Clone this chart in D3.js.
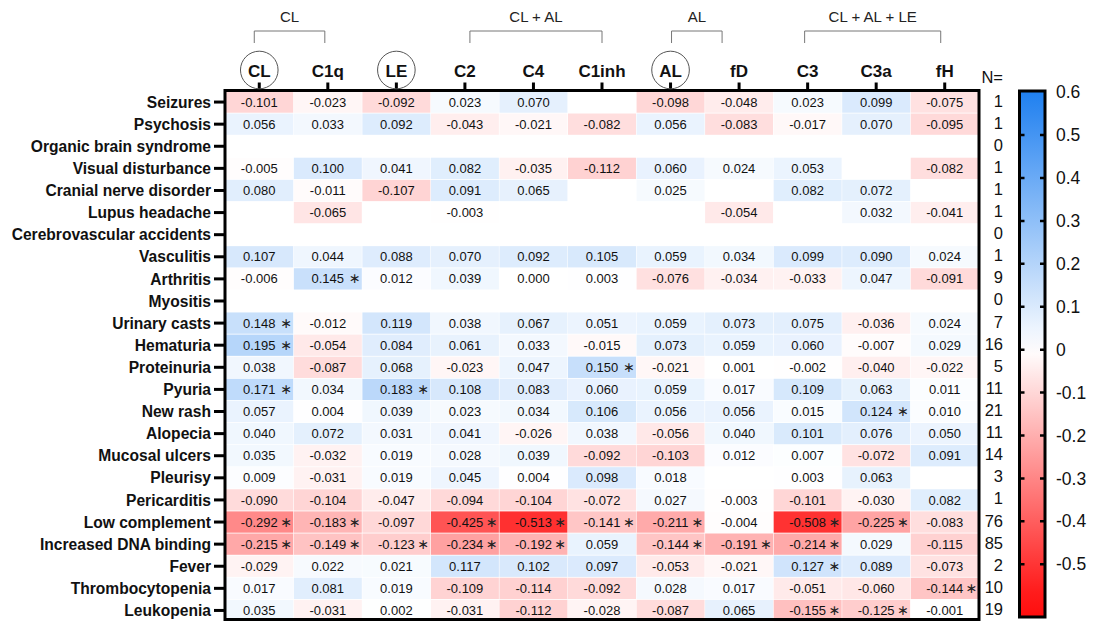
<!DOCTYPE html>
<html>
<head>
<meta charset="utf-8">
<script src="https://cdn.jsdelivr.net/npm/d3@7"></script>
<style>
  body { margin: 0; background: #fff; }
  svg { display: block; font-family: "Liberation Sans", Arial, Helvetica, sans-serif; }
</style>
</head>
<body>
<svg id="chart" width="1094" height="622"></svg>
<script>
// Complement components (columns) and clinical manifestations (rows)
const columns = ["CL", "C1q", "LE", "C2", "C4", "C1inh", "AL", "fD", "C3", "C3a", "fH"];
const circledColumns = ["CL", "LE", "AL"];

const symptoms = [
  "Seizures", "Psychosis", "Organic brain syndrome", "Visual disturbance",
  "Cranial nerve disorder", "Lupus headache", "Cerebrovascular accidents",
  "Vasculitis", "Arthritis", "Myositis", "Urinary casts", "Hematuria",
  "Proteinuria", "Pyuria", "New rash", "Alopecia", "Mucosal ulcers",
  "Pleurisy", "Pericarditis", "Low complement", "Increased DNA binding",
  "Fever", "Thrombocytopenia", "Leukopenia"
];

const patientCounts = [1, 1, 0, 1, 1, 1, 0, 1, 9, 0, 7, 16, 5, 11, 21, 11, 14, 3, 1, 76, 85, 2, 10, 19];

// Correlation coefficients, one row per symptom, in column order (null = not computed)
const correlations = [
  [-0.101, -0.023, -0.092,  0.023,  0.070,  null,  -0.098, -0.048,  0.023,  0.099, -0.075],
  [ 0.056,  0.033,  0.092, -0.043, -0.021, -0.082,  0.056, -0.083, -0.017,  0.070, -0.095],
  [ null,   null,   null,   null,   null,   null,   null,   null,   null,   null,   null ],
  [-0.005,  0.100,  0.041,  0.082, -0.035, -0.112,  0.060,  0.024,  0.053,  null,  -0.082],
  [ 0.080, -0.011, -0.107,  0.091,  0.065,  null,   0.025,  null,   0.082,  0.072,  null ],
  [ null,  -0.065,  null,  -0.003,  null,   null,   null,  -0.054,  null,   0.032, -0.041],
  [ null,   null,   null,   null,   null,   null,   null,   null,   null,   null,   null ],
  [ 0.107,  0.044,  0.088,  0.070,  0.092,  0.105,  0.059,  0.034,  0.099,  0.090,  0.024],
  [-0.006,  0.145,  0.012,  0.039,  0.000,  0.003, -0.076, -0.034, -0.033,  0.047, -0.091],
  [ null,   null,   null,   null,   null,   null,   null,   null,   null,   null,   null ],
  [ 0.148, -0.012,  0.119,  0.038,  0.067,  0.051,  0.059,  0.073,  0.075, -0.036,  0.024],
  [ 0.195, -0.054,  0.084,  0.061,  0.033, -0.015,  0.073,  0.059,  0.060, -0.007,  0.029],
  [ 0.038, -0.087,  0.068, -0.023,  0.047,  0.150, -0.021,  0.001, -0.002, -0.040, -0.022],
  [ 0.171,  0.034,  0.183,  0.108,  0.083,  0.060,  0.059,  0.017,  0.109,  0.063,  0.011],
  [ 0.057,  0.004,  0.039,  0.023,  0.034,  0.106,  0.056,  0.056,  0.015,  0.124,  0.010],
  [ 0.040,  0.072,  0.031,  0.041, -0.026,  0.038, -0.056,  0.040,  0.101,  0.076,  0.050],
  [ 0.035, -0.032,  0.019,  0.028,  0.039, -0.092, -0.103,  0.012,  0.007, -0.072,  0.091],
  [ 0.009, -0.031,  0.019,  0.045,  0.004,  0.098,  0.018,  null,   0.003,  0.063,  null ],
  [-0.090, -0.104, -0.047, -0.094, -0.104, -0.072,  0.027, -0.003, -0.101, -0.030,  0.082],
  [-0.292, -0.183, -0.097, -0.425, -0.513, -0.141, -0.211, -0.004, -0.508, -0.225, -0.083],
  [-0.215, -0.149, -0.123, -0.234, -0.192,  0.059, -0.144, -0.191, -0.214,  0.029, -0.115],
  [-0.029,  0.022,  0.021,  0.117,  0.102,  0.097, -0.053, -0.021,  0.127,  0.089, -0.073],
  [ 0.017,  0.081,  0.019, -0.109, -0.114, -0.092,  0.028,  0.017, -0.051, -0.060, -0.144],
  [ 0.035, -0.031,  0.002, -0.031, -0.112, -0.028, -0.087,  0.065, -0.155, -0.125, -0.001]
];

// Statistically significant cells, marked with an asterisk
const significant = [
  ["Arthritis", "C1q"],
  ["Urinary casts", "CL"],
  ["Hematuria", "CL"],
  ["Proteinuria", "C1inh"],
  ["Pyuria", "CL"], ["Pyuria", "LE"],
  ["New rash", "C3a"],
  ["Low complement", "CL"], ["Low complement", "C1q"], ["Low complement", "C2"],
  ["Low complement", "C4"], ["Low complement", "C1inh"], ["Low complement", "AL"],
  ["Low complement", "C3"], ["Low complement", "C3a"],
  ["Increased DNA binding", "CL"], ["Increased DNA binding", "C1q"],
  ["Increased DNA binding", "LE"], ["Increased DNA binding", "C2"],
  ["Increased DNA binding", "C4"], ["Increased DNA binding", "AL"],
  ["Increased DNA binding", "fD"], ["Increased DNA binding", "C3"],
  ["Fever", "C3"],
  ["Thrombocytopenia", "fH"],
  ["Leukopenia", "C3"], ["Leukopenia", "C3a"]
];

// Pathway groupings shown above the column headers
const groupLabels = ["CL", "CL + AL", "AL", "CL + AL + LE"];
const groupStarts = ["CL", "C2", "AL", "C3"];
const groupEnds = ["C1q", "C1inh", "fD", "fH"];

const colorbarTicks = [0.6, 0.5, 0.4, 0.3, 0.2, 0.1, 0, -0.1, -0.2, -0.3, -0.4, -0.5];

// ---- drawing ----
const svg = d3.select("#chart");
const FONT = '"Liberation Sans", Arial, Helvetica, sans-serif';

const plot = { left: 225, right: 979, top: 91, bottom: 621.5 };

const x = d3.scaleBand().domain(columns).range([plot.left, plot.right]);
const y = d3.scaleBand().domain(symptoms).range([plot.top, plot.bottom]);
const cx = c => x(c) + x.bandwidth() / 2;
const cy = r => y(r) + y.bandwidth() / 2;

const color = d3.scaleLinear()
  .domain([-0.6, 0, 0.6])
  .range(["#ff0d0d", "#ffffff", "#1f80f0"])
  .clamp(true);

const sigSet = new Set(significant.map(d => d[0] + "|" + d[1]));

const cells = [];
symptoms.forEach((s, i) => {
  columns.forEach((c, j) => {
    const v = correlations[i][j];
    if (v !== null) cells.push({ row: s, col: c, value: v, sig: sigSet.has(s + "|" + c) });
  });
});

// Heatmap cells
const cellG = svg.append("g");
cellG.selectAll("rect")
  .data(cells)
  .join("rect")
  .attr("x", d => x(d.col) + 0.3)
  .attr("y", d => y(d.row) + 0.4)
  .attr("width", x.bandwidth() - 0.6)
  .attr("height", y.bandwidth() - 0.8)
  .attr("fill", d => color(d.value));

// Cell values
cellG.selectAll("text.val")
  .data(cells)
  .join("text")
  .attr("class", "val")
  .attr("x", d => cx(d.col))
  .attr("y", d => cy(d.row) + 4.6)
  .attr("text-anchor", "middle")
  .attr("font-size", 13)
  .attr("fill", "#111")
  .text(d => d3.format(".3f")(d.value).replace("−", "-"));

// Significance asterisks (math asterisk sits on the centre line of the digits)
cellG.selectAll("text.sig")
  .data(cells.filter(d => d.sig))
  .join("text")
  .attr("class", "sig")
  .attr("x", d => cx(d.col) + 27)
  .attr("y", d => cy(d.row) + 4.6)
  .attr("text-anchor", "middle")
  .attr("font-family", '"DejaVu Sans", sans-serif')
  .attr("font-size", 14)
  .attr("fill", "#222")
  .text("\u2217");

// Frame
svg.append("rect")
  .attr("x", plot.left)
  .attr("y", plot.top - 0.5)
  .attr("width", plot.right - plot.left)
  .attr("height", 620 - plot.top)
  .attr("fill", "none")
  .attr("stroke", "#000")
  .attr("stroke-width", 3);

// Left axis: symptom labels
const yAxis = d3.axisLeft(y).tickSize(11).tickPadding(3);
const gy = svg.append("g").attr("transform", `translate(${plot.left},0)`).call(yAxis);
gy.select(".domain").remove();
gy.selectAll(".tick line").attr("stroke", "#000").attr("stroke-width", 3);
gy.selectAll(".tick text")
  .attr("font-family", FONT)
  .attr("font-size", 15.6)
  .attr("font-weight", "bold")
  .attr("fill", "#111")
  .attr("dy", "0.36em");

// Top axis: complement component labels
const xAxis = d3.axisTop(x).tickSize(7).tickPadding(6);
const gx = svg.append("g").attr("transform", `translate(0,${plot.top - 1.5})`).call(xAxis);
gx.select(".domain").remove();
gx.selectAll(".tick line").attr("stroke", "#000").attr("stroke-width", 3);
gx.selectAll(".tick text")
  .attr("font-family", FONT)
  .attr("font-size", 17)
  .attr("font-weight", "bold")
  .attr("fill", "#111");

// Circles around the initiating-pathway markers
svg.append("g").selectAll("circle")
  .data(circledColumns)
  .join("circle")
  .attr("cx", d => cx(d))
  .attr("cy", 70)
  .attr("r", 18.8)
  .attr("fill", "none")
  .attr("stroke", "#555")
  .attr("stroke-width", 1);

// Pathway brackets
const bracketInset = [[-5, -3], [5, 0], [1, -17], [-3, -4]];
const bG = svg.append("g");
groupLabels.forEach((lab, i) => {
  const x0 = cx(groupStarts[i]) + bracketInset[i][0];
  const x1 = cx(groupEnds[i]) + bracketInset[i][1];
  bG.append("path")
    .attr("d", `M${x0},43V31H${x1}V43`)
    .attr("fill", "none")
    .attr("stroke", "#777")
    .attr("stroke-width", 1);
  bG.append("text")
    .attr("x", (x0 + x1) / 2)
    .attr("y", 22)
    .attr("text-anchor", "middle")
    .attr("font-size", 15)
    .attr("fill", "#222")
    .text(lab);
});

// Patient counts
svg.append("text")
  .attr("x", 1003)
  .attr("y", 83)
  .attr("text-anchor", "end")
  .attr("font-size", 16.5)
  .attr("fill", "#111")
  .text("N=");

svg.append("g").selectAll("text")
  .data(symptoms.map((s, i) => ({ s, n: patientCounts[i] })))
  .join("text")
  .attr("x", 1003)
  .attr("y", d => cy(d.s) + 4.5)
  .attr("text-anchor", "end")
  .attr("font-size", 16.5)
  .attr("fill", "#111")
  .text(d => d.n);

// Colour bar
const bar = { x: 1019.5, w: 25.5, top: 91, bottom: 617 };
const cb = d3.scaleLinear().domain([0.6, -0.5]).range([92.1, 564.3]);
const defs = svg.append("defs");
const grad = defs.append("linearGradient")
  .attr("id", "cbGrad")
  .attr("x1", 0).attr("y1", 0).attr("x2", 0).attr("y2", 1);
const vTop = cb.invert(bar.top), vBot = cb.invert(bar.bottom);
d3.range(0, 1.0001, 0.05).forEach(t => {
  const v = vTop + (vBot - vTop) * t;
  grad.append("stop").attr("offset", t).attr("stop-color", color(v));
});
svg.append("rect")
  .attr("x", bar.x).attr("y", bar.top)
  .attr("width", bar.w).attr("height", bar.bottom - bar.top)
  .attr("fill", "url(#cbGrad)")
  .attr("stroke", "#000")
  .attr("stroke-width", 3);

const cbTicks = colorbarTicks.filter(v => v < 0.6);
svg.append("g").selectAll("path")
  .data(cbTicks)
  .join("path")
  .attr("d", v => `M${bar.x},${cb(v)}h5M${bar.x + bar.w},${cb(v)}h-5`)
  .attr("stroke", "#000")
  .attr("stroke-width", 2.5);

svg.append("g").selectAll("text")
  .data(colorbarTicks)
  .join("text")
  .attr("x", 1056)
  .attr("y", v => cb(v))
  .attr("dy", "0.35em")
  .attr("font-size", 17.5)
  .attr("fill", "#111")
  .text(v => (v === 0 ? "0" : String(v)));
</script>
</body>
</html>
